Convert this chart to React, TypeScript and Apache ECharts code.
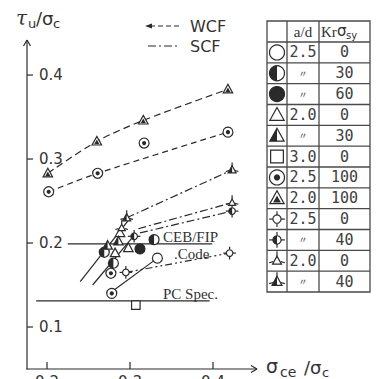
import React, { useEffect, useRef } from 'react';
import * as echarts from 'echarts';

const INK = '#2a2a2a';
const TXT = '#333333';

// axis extents and ticks
const xRange = [0.1759, 0.453];
const yRange = [0.05, 0.4417];
const xTicks = [0.2, 0.3, 0.4];
const yTicks = [0.1, 0.2, 0.3, 0.4];

// connecting lines
const wcfLine = [[0.201, 0.283], [0.26, 0.321], [0.316, 0.346], [0.418, 0.383]];
const dotLine = [[0.202, 0.261], [0.261, 0.283], [0.418, 0.332]];
const scfLine1 = [[0.296, 0.23], [0.423, 0.287]];
const scfLine2 = [[0.31, 0.217], [0.423, 0.248]];
const scfLine3 = [[0.312, 0.212], [0.423, 0.238]];
const codeLine = [[0.295, 0.165], [0.42, 0.188]];
const solid1 = [[0.24, 0.154], [0.298, 0.227]];
const solid2 = [[0.255, 0.15], [0.304, 0.208]];
const solid3 = [[0.278, 0.142], [0.333, 0.182]];
const cebFip = [[0.225, 0.199], [0.399, 0.199]];
const pcSpec = [[0.187, 0.131], [0.396, 0.131]];

// markers by legend type
const openCircle = [[0.333, 0.182]];
const halfCircle = [[0.269, 0.189], [0.28, 0.176], [0.329, 0.204]];
const fullCircle = [[0.312, 0.193]];
const openTri = [[0.288, 0.212], [0.298, 0.194], [0.282, 0.188]];
const halfTri = [[0.273, 0.197], [0.286, 0.202]];
const square = [[0.307, 0.126]];
const dotCircle = [[0.202, 0.261], [0.261, 0.283], [0.418, 0.332], [0.317, 0.319], [0.277, 0.164], [0.278, 0.14]];
const fillTri = [[0.201, 0.283], [0.26, 0.321], [0.316, 0.346], [0.418, 0.383]];
const crossCircle = [[0.295, 0.165], [0.42, 0.188]];
const crossHalfCircle = [[0.305, 0.208], [0.423, 0.238]];
const crossTri = [[0.29, 0.218], [0.423, 0.248]];
const crossStar = [[0.296, 0.23], [0.423, 0.287]];

// table
const tableKinds = ['oc', 'hc', 'fc', 'ot', 'ht', 'sq', 'dc', 'ft', 'xc', 'xh', 'xt', 'xs'];
const tableAd = ['2.5', '〃', '〃', '2.0', '〃', '3.0', '2.5', '2.0', '2.5', '〃', '2.0', '〃'];
const tableKr = ['0', '30', '60', '0', '30', '0', '100', '100', '0', '40', '0', '40'];

const GRID = { left: 27, right: 123, top: 40, bottom: 10 };
const W = 380;
const H = 379;

function markerEls(kind: string, cx: number, cy: number, s: number): any[] {
  const r = s / 2;
  const lw = 1.2;
  const outline = () => ({ fill: '#fff', stroke: INK, lineWidth: lw });
  const solid = () => ({ fill: INK });
  const els: any[] = [];
  const tri = (k: number, oy = 0) => [
    [cx, cy + oy - r * k],
    [cx + r * k * 0.95, cy + oy + r * k * 0.72],
    [cx - r * k * 0.95, cy + oy + r * k * 0.72],
  ];
  const halfTriPts = (k: number) => [
    [cx, cy - r * k],
    [cx, cy + r * k * 0.72],
    [cx - r * k * 0.95, cy + r * k * 0.72],
  ];
  const leftHalf = (rr: number) => ({
    type: 'sector',
    shape: { cx, cy, r0: 0, r: rr, startAngle: Math.PI / 2, endAngle: (3 * Math.PI) / 2, clockwise: true },
    style: solid(),
  });
  const ticks = (inner: number, outer: number, dirs: number[][]) =>
    dirs.map((d) => ({
      type: 'line',
      shape: { x1: cx + d[0] * inner, y1: cy + d[1] * inner, x2: cx + d[0] * outer, y2: cy + d[1] * outer },
      style: { stroke: INK, lineWidth: lw },
    }));
  const four = [[1, 0], [-1, 0], [0, 1], [0, -1]];
  switch (kind) {
    case 'oc':
      els.push({ type: 'circle', shape: { cx, cy, r }, style: outline() });
      break;
    case 'hc':
      els.push({ type: 'circle', shape: { cx, cy, r }, style: outline() });
      els.push(leftHalf(r));
      break;
    case 'fc':
      els.push({ type: 'circle', shape: { cx, cy, r }, style: { fill: INK, stroke: INK, lineWidth: lw } });
      break;
    case 'ot':
      els.push({ type: 'polygon', shape: { points: tri(1) }, style: outline() });
      break;
    case 'ht':
      els.push({ type: 'polygon', shape: { points: tri(1) }, style: outline() });
      els.push({ type: 'polygon', shape: { points: halfTriPts(1) }, style: solid() });
      break;
    case 'sq':
      els.push({ type: 'rect', shape: { x: cx - r * 0.85, y: cy - r * 0.85, width: r * 1.7, height: r * 1.7 }, style: outline() });
      break;
    case 'dc':
      els.push({ type: 'circle', shape: { cx, cy, r }, style: outline() });
      els.push({ type: 'circle', shape: { cx, cy, r: r * 0.42 }, style: solid() });
      break;
    case 'ft':
      els.push({ type: 'polygon', shape: { points: tri(1) }, style: outline() });
      els.push({ type: 'polygon', shape: { points: tri(0.55, r * 0.18) }, style: solid() });
      break;
    case 'xc':
      els.push(...ticks(r * 0.55, r * 1.05, four));
      els.push({ type: 'circle', shape: { cx, cy, r: r * 0.55 }, style: outline() });
      break;
    case 'xh':
      els.push(...ticks(r * 0.55, r * 1.05, four));
      els.push({ type: 'circle', shape: { cx, cy, r: r * 0.55 }, style: outline() });
      els.push(leftHalf(r * 0.55));
      break;
    case 'xt':
      els.push(...ticks(r * 0.5, r * 1.05, [[1, 0.25], [-1, 0.25], [0, -1.2]]));
      els.push({ type: 'polygon', shape: { points: tri(0.62) }, style: outline() });
      break;
    case 'xs':
      els.push(...ticks(r * 0.5, r * 1.05, [[1, 0.25], [-1, 0.25], [0, -1.2]]));
      els.push({ type: 'polygon', shape: { points: tri(0.7) }, style: outline() });
      els.push({ type: 'polygon', shape: { points: halfTriPts(0.7) }, style: solid() });
      break;
  }
  return els;
}

function markerSeries(kind: string, data: number[][], size = 10) {
  return {
    type: 'custom',
    coordinateSystem: 'cartesian2d',
    data,
    z: 5,
    silent: true,
    renderItem: (_p: any, api: any) => {
      const pt = api.coord([api.value(0), api.value(1)]);
      return { type: 'group', children: markerEls(kind, pt[0], pt[1], size) };
    },
  };
}

function lineSeries(data: number[][], dash: any, smooth = 0) {
  return {
    type: 'line',
    data,
    symbol: 'none',
    smooth,
    silent: true,
    z: 3,
    lineStyle: { color: INK, width: 1.2, type: dash },
  };
}

export default function App() {
  const ref = useRef<HTMLDivElement>(null);
  const axRef = useRef<HTMLDivElement>(null);
  useEffect(() => {
    if (!ref.current || !axRef.current) return;
    const chart = echarts.init(ref.current, undefined, { renderer: 'svg' });
    const axChart = echarts.init(axRef.current, undefined, { renderer: 'svg' });

    // table graphics
    const tL = 267, tR = 370, c1 = 287, c2 = 319, tTop = 21, hB = 42, tB = 292;
    const rowH = (tB - hB) / tableKinds.length;
    const tbl: any[] = [];
    const ls = () => ({ stroke: '#4a4a4a', lineWidth: 1.3 });
    tbl.push({ type: 'rect', shape: { x: tL, y: tTop, width: tR - tL, height: tB - tTop }, style: { fill: '#fff', ...ls() } });
    tbl.push({ type: 'line', shape: { x1: c1, y1: tTop, x2: c1, y2: tB }, style: ls() });
    tbl.push({ type: 'line', shape: { x1: c2, y1: tTop, x2: c2, y2: tB }, style: ls() });
    for (let i = 0; i < tableKinds.length; i++) {
      const y = hB + i * rowH;
      tbl.push({ type: 'line', shape: { x1: tL, y1: y, x2: tR, y2: y }, style: ls() });
      const cy = y + rowH / 2;
      const isDitto = tableAd[i] === '〃';
      tbl.push({
        type: 'text',
        x: (c1 + c2) / 2,
        y: cy,
        style: {
          text: tableAd[i],
          fill: '#404040',
          font: isDitto ? '9px "Noto Sans CJK JP"' : '15px "DejaVu Sans Mono"',
          align: 'center',
          verticalAlign: 'middle',
        },
      });
      tbl.push({
        type: 'text',
        x: (c2 + tR) / 2,
        y: cy,
        style: { text: tableKr[i], fill: '#404040', font: '15px "DejaVu Sans Mono"', align: 'center', verticalAlign: 'middle' },
      });
    }
    tbl.push({ type: 'text', x: (c1 + c2) / 2, y: 32, style: { text: 'a/d', fill: TXT, font: '15px "Liberation Serif"', align: 'center', verticalAlign: 'middle' } });
    tbl.push({ type: 'text', x: 321, y: 32, style: { text: 'Kr', fill: TXT, font: '15px "Liberation Serif"', verticalAlign: 'middle' } });
    tbl.push({ type: 'text', x: 337, y: 31, style: { text: 'σ', fill: TXT, font: '15px "DejaVu Sans"', verticalAlign: 'middle' } });
    tbl.push({ type: 'text', x: 346, y: 35, style: { text: 'sy', fill: TXT, font: '10px "DejaVu Sans"', verticalAlign: 'middle' } });
    const tblSyms: any[] = tableKinds.map((k, i) => ({
      type: 'group',
      children: markerEls(k, (tL + c1) / 2, hB + i * rowH + rowH / 2, 15),
    }));

    const texts: any[] = [
      // y title
      { type: 'text', x: 16, y: 18, style: { text: 'τ', fill: TXT, font: 'italic 20px "DejaVu Serif"', verticalAlign: 'middle' } },
      { type: 'text', x: 28, y: 23, style: { text: 'u', fill: TXT, font: '13px "DejaVu Sans"', verticalAlign: 'middle' } },
      { type: 'text', x: 36, y: 18, style: { text: '/σ', fill: TXT, font: '18px "DejaVu Sans"', verticalAlign: 'middle' } },
      { type: 'text', x: 53, y: 23, style: { text: 'c', fill: TXT, font: '13px "DejaVu Sans"', verticalAlign: 'middle' } },
      // x title
      { type: 'text', x: 266, y: 366, style: { text: 'σ', fill: TXT, font: '19px "DejaVu Sans"', verticalAlign: 'middle' } },
      { type: 'text', x: 280, y: 372, style: { text: 'ce', fill: TXT, font: '14px "DejaVu Sans"', verticalAlign: 'middle' } },
      { type: 'text', x: 304, y: 367, style: { text: '/σ', fill: TXT, font: '18px "DejaVu Sans"', verticalAlign: 'middle' } },
      { type: 'text', x: 322, y: 372, style: { text: 'c', fill: TXT, font: '13px "DejaVu Sans"', verticalAlign: 'middle' } },
      // legend
      { type: 'line', shape: { x1: 150, y1: 26, x2: 180, y2: 26 }, style: { stroke: INK, lineWidth: 1.2, lineDash: [5, 3] } },
      { type: 'polygon', shape: { points: [[145, 26], [152, 23.5], [152, 28.5]] }, style: { fill: INK } },
      { type: 'text', x: 190, y: 26, style: { text: 'WCF', fill: TXT, font: '16px "DejaVu Sans"', verticalAlign: 'middle' } },
      { type: 'line', shape: { x1: 148, y1: 46, x2: 180, y2: 46 }, style: { stroke: INK, lineWidth: 1.2, lineDash: [8, 3, 2, 3] } },
      { type: 'text', x: 190, y: 46, style: { text: 'SCF', fill: TXT, font: '16px "DejaVu Sans"', verticalAlign: 'middle' } },
      // annotations
      { type: 'text', x: 163, y: 237, style: { text: 'CEB/FIP', fill: TXT, font: '15px "Liberation Serif"', verticalAlign: 'middle' } },
      { type: 'text', x: 174, y: 254, style: { text: '.Code', fill: TXT, font: '15px "Liberation Serif"', verticalAlign: 'middle' } },
      { type: 'text', x: 163, y: 294, style: { text: 'PC Spec.', fill: TXT, font: '15px "Liberation Serif"', verticalAlign: 'middle' } },
    ];

    chart.setOption({
      animation: false,
      backgroundColor: '#fff',
      grid: { ...GRID, outerBoundsMode: 'none' },
      xAxis: {
        type: 'value',
        min: xRange[0],
        max: xRange[1],
        splitLine: { show: false },
        axisLine: { show: false },
        axisTick: { show: false },
        axisLabel: { customValues: xTicks, margin: 5, fontSize: 15, color: TXT, fontFamily: 'DejaVu Sans', formatter: (v: number) => v.toFixed(1) },
      },
      yAxis: {
        type: 'value',
        min: yRange[0],
        max: yRange[1],
        splitLine: { show: false },
        axisLine: { show: false },
        axisTick: { show: false },
        axisLabel: { inside: true, customValues: yTicks, margin: 12, fontSize: 15, color: TXT, fontFamily: 'DejaVu Sans', formatter: (v: number) => v.toFixed(1) },
      },
      series: [
        lineSeries(wcfLine, [7, 4], 0.3),
        lineSeries(dotLine, [6, 4], 0.3),
        lineSeries(scfLine1, [8, 3, 2, 3]),
        lineSeries(scfLine2, [8, 3, 2, 3]),
        lineSeries(scfLine3, [8, 3, 2, 3]),
        lineSeries(codeLine, [7, 3, 2, 3, 2, 3]),
        lineSeries(solid1, 'solid'),
        lineSeries(solid2, 'solid'),
        lineSeries(solid3, 'solid'),
        lineSeries(cebFip, 'solid'),
        lineSeries(pcSpec, 'solid'),
        markerSeries('oc', openCircle),
        markerSeries('hc', halfCircle),
        markerSeries('fc', fullCircle),
        markerSeries('ot', openTri),
        markerSeries('ht', halfTri),
        markerSeries('sq', square),
        markerSeries('dc', dotCircle),
        markerSeries('ft', fillTri),
        markerSeries('xc', crossCircle, 12),
        markerSeries('xh', crossHalfCircle, 12),
        markerSeries('xt', crossTri, 12),
        markerSeries('xs', crossStar, 12),
      ],
      graphic: [...tbl, ...texts, ...tblSyms],
    });

    // axis lines, arrows and inward ticks: positions from the main chart's scales,
    // drawn on a transparent overlay chart
    const gw = W - GRID.left - GRID.right;
    const gh = H - GRID.top - GRID.bottom;
    const px = (x: number, y: number): number[] => {
      let p: any = null;
      try {
        p = chart.convertToPixel({ gridIndex: 0 }, [x, y]);
      } catch (e) {
        p = null;
      }
      if (!p || !isFinite(p[0]) || !isFinite(p[1])) {
        p = [
          GRID.left + ((x - xRange[0]) / (xRange[1] - xRange[0])) * gw,
          GRID.top + gh - ((y - yRange[0]) / (yRange[1] - yRange[0])) * gh,
        ];
      }
      return p;
    };
    const o = px(xRange[0], yRange[0]);
    const xe = px(xRange[1], yRange[0]);
    const ye = px(xRange[0], yRange[1]);
    const ln = () => ({ stroke: INK, lineWidth: 1.2 });
    const axisEls: any[] = [
      { type: 'rect', shape: { x: o[0] - 0.6, y: ye[1], width: 1.2, height: o[1] - ye[1] + 0.6 }, style: { fill: INK } },
      { type: 'rect', shape: { x: o[0] - 0.6, y: o[1] - 0.6, width: xe[0] - o[0] + 0.6, height: 1.2 }, style: { fill: INK } },
      { type: 'line', shape: { x1: xe[0] - 6, y1: xe[1] - 3.5, x2: xe[0], y2: xe[1] }, style: ln() },
      { type: 'line', shape: { x1: xe[0] - 6, y1: xe[1] + 3.5, x2: xe[0], y2: xe[1] }, style: ln() },
      { type: 'line', shape: { x1: ye[0] - 3.5, y1: ye[1] + 6, x2: ye[0], y2: ye[1] }, style: ln() },
      { type: 'line', shape: { x1: ye[0] + 3.5, y1: ye[1] + 6, x2: ye[0], y2: ye[1] }, style: ln() },
    ];
    xTicks.forEach((v) => {
      const p = px(v, yRange[0]);
      axisEls.push({ type: 'rect', shape: { x: p[0] - 0.6, y: p[1] - 7, width: 1.2, height: 7 }, style: { fill: INK } });
    });
    yTicks.forEach((v) => {
      const p = px(xRange[0], v);
      axisEls.push({ type: 'rect', shape: { x: p[0], y: p[1] - 0.6, width: 6, height: 1.2 }, style: { fill: INK } });
    });
    axChart.setOption({ animation: false, backgroundColor: 'transparent', graphic: axisEls });

    return () => {
      axChart.dispose();
      chart.dispose();
    };
  }, []);
  return (
    <div style={{ position: 'absolute', left: 0, top: 0, width: W, height: H }}>
      <div ref={ref} style={{ position: 'absolute', left: 0, top: 0, width: W, height: H, background: '#fff' }} />
      <div ref={axRef} style={{ position: 'absolute', left: 0, top: 0, width: W, height: H, pointerEvents: 'none', zIndex: 2 }} />
    </div>
  );
}
